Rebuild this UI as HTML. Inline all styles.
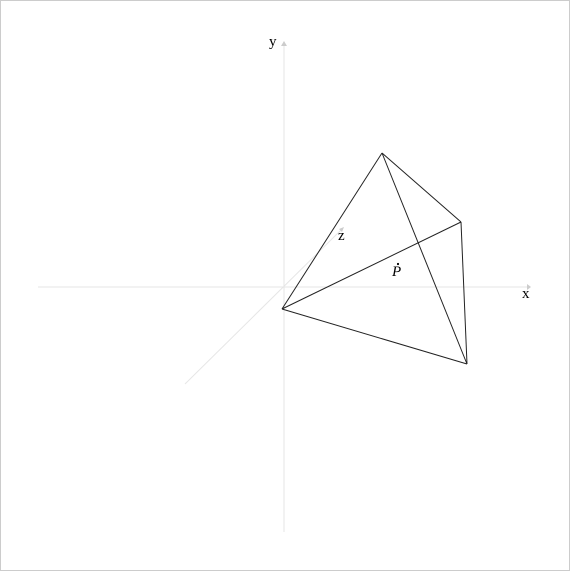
<!DOCTYPE html>
<html><head><meta charset="utf-8"><style>
body{margin:0;background:#fff}
svg{display:block}
text{font-family:"Liberation Serif",serif;font-size:15px;fill:#000}
</style></head><body>
<svg width="570" height="571">
<rect x="0.5" y="0.5" width="569" height="570" fill="#fff" stroke="#ccc"/>
<g stroke="#e6e6e6" stroke-width="1">
<line x1="38" y1="287" x2="527" y2="287"/>
<line x1="284" y1="532" x2="284" y2="43"/>
<line x1="185" y1="384" x2="341" y2="230"/>
</g>
<polygon points="527,284 527,290 531,287" fill="#ccc"/>
<polygon points="281,46 287,46 284,41" fill="#ccc"/>
<polygon points="339,229 342,232 344,227" fill="#ccc"/>
<text x="522" y="298">x</text>
<text x="269" y="46">y</text>
<text x="338" y="240">z</text>
<g stroke="#222" stroke-width="1" fill="none">
<line x1="282" y1="309" x2="382" y2="153"/>
<line x1="382" y1="153" x2="461" y2="222"/>
<line x1="382" y1="153" x2="467" y2="364"/>
<line x1="282" y1="309" x2="461" y2="222"/>
<line x1="282" y1="309" x2="467" y2="364"/>
<line x1="461" y1="222" x2="467" y2="364"/>
</g>
<text x="392" y="276" font-style="italic">P</text>
<circle cx="398" cy="264" r="1.1" fill="#000"/>
</svg>
</body></html>
